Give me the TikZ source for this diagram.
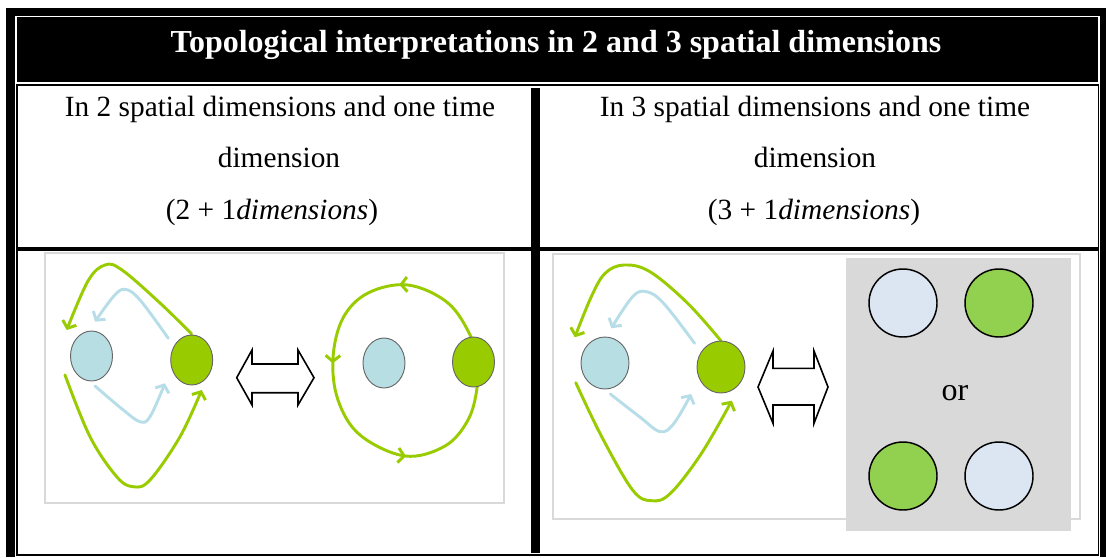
\documentclass[tikz,border=0pt]{standalone}
\usepackage{fontspec}
\setmainfont{Liberation Serif}
\usetikzlibrary{arrows.meta,shapes.geometric,decorations.markings}
\definecolor{tgreen}{HTML}{99CC00}
\definecolor{cgreen}{HTML}{92D050}
\definecolor{tblue}{HTML}{B7DEE8}
\definecolor{eblue}{HTML}{B7DEE3}
\definecolor{cblue}{HTML}{DCE6F2}
\definecolor{lgray}{HTML}{D9D9D9}
\begin{document}
\begin{tikzpicture}[x=0.75pt,y=-0.75pt,
  hdr/.style={font=\fontsize{22}{26}\selectfont, anchor=base, inner sep=0},
  sellL/.style={ellipse, draw=black!60, line width=0.7pt, inner sep=0, minimum width=31.5pt, minimum height=37.5pt},
  sellR/.style={ellipse, draw=black!60, line width=0.7pt, inner sep=0, minimum width=36pt, minimum height=39pt},
  ball/.style={circle, draw=black, line width=1.1pt, inner sep=0, minimum size=51pt},
  barb/.style={-{Straight Barb[length=4.5pt,width=11pt]}},
  garrow/.style={draw=tgreen, line width=2.2pt, line cap=round, line join=round, barb},
  barrow/.style={draw=tblue, line width=2.2pt, line cap=round, line join=round, barb},
  dblarrow/.style={draw=black, line width=1.2pt, fill=white, line join=miter},
  imgbox/.style={draw=lgray, line width=1.5pt}
]
\useasboundingbox (0,0) rectangle (1106,557);
% ---- table rules ----
\fill[black] (6,8) rectangle (15,557);
\fill[black] (6,8) rectangle (1106,15.5);
\fill[black] (1100,8) rectangle (1106,557);
\fill[black] (16.7,16.7) rectangle (1097.5,82);
\fill[black] (16.5,84) rectangle (1098,86);
\draw[black, line width=1.1pt] (16.9,84) -- (16.9,555.5);
\draw[black, line width=1.1pt] (1098.3,84) -- (1098.3,555.5);
\fill[black] (16.5,554) rectangle (1099,556);
\fill[black] (531,88) rectangle (540,553);
\fill[black] (16.5,247) rectangle (1098,251);
% ---- texts ----
\node[font=\bfseries\fontsize{24}{28}\selectfont, text=white, anchor=base, inner sep=0] (title) at (556,52) {Topological interpretations in 2 and 3 spatial dimensions};
\node[hdr] (hla) at (280,116) {In 2 spatial dimensions and one time};
\node[hdr] (hlb) at (279,167) {dimension};
\node[hdr] (hlc) at (272,219) {(2 + 1\textit{dimensions})};
\node[hdr] (hra) at (815,116) {In 3 spatial dimensions and one time};
\node[hdr] (hrb) at (815,167) {dimension};
\node[hdr] (hrc) at (814,219) {(3 + 1\textit{dimensions})};
% ---- left image ----
\draw[imgbox] (45,253) rectangle (504,503);
\draw[garrow] plot[smooth, tension=0.6] coordinates {(191.7,334) (160,303) (122,270) (105,265) (88,281) (66.7,330)};
\draw[garrow] plot[smooth, tension=0.6] coordinates {(65,375) (90,436.7) (116.7,476.7) (133.3,486.7) (150,480) (180,436.7) (201.7,390)};
\draw[barrow] plot[smooth, tension=0.6] coordinates {(168.3,338.3) (140,300) (125,289.3) (113.3,296.7) (95,321.7)};
\draw[barrow] plot[smooth, tension=0.6] coordinates {(95,386) (123.3,410) (140,421.7) (150,416.7) (165,383.3)};
\node[sellL, fill=eblue] (bL) at (91.5,356) {};
\node[sellL, fill=tgreen] (gL) at (191.7,360) {};
\draw[dblarrow] (236.7,377.7) -- (252,350) -- (252,364) -- (298,364) -- (298,350) -- (314,377.7) -- (298,405) -- (298,392.7) -- (252,392.7) -- (252,405) -- cycle;
\draw[draw=tgreen, line width=2.2pt, line join=round,
  postaction={decorate},
  decoration={markings,
    mark=at position 0.165 with {\arrow{Straight Barb[length=4.5pt,width=11pt]}},
    mark=at position 0.425 with {\arrow{Straight Barb[length=4.5pt,width=11pt]}},
    mark=at position 0.935 with {\arrow{Straight Barb[length=4.5pt,width=11pt]}}}]
  plot[smooth cycle, tension=0.6] coordinates {(408,285) (368,293) (343,318) (333,358) (338,400) (360,435) (405,456) (445,446) (468,420) (477,388) (476,362) (471,337) (448,303)};
\node[sellL, fill=eblue] (bL2) at (384,363) {};
\node[sellL, fill=tgreen] (gL2) at (473.5,362) {};
% ---- right image ----
\draw[imgbox] (553,254) rectangle (1080,519);
\draw[garrow] plot[smooth, tension=0.6] coordinates {(721.1,341) (687.7,303.3) (649.9,271.7) (624,265) (605.1,273.3) (591.3,296.7) (574.8,337.3)};
\draw[garrow] plot[smooth, tension=0.6] coordinates {(575.8,382.7) (601.7,436.7) (632.6,490) (651.6,500.7) (670.5,493.3) (701.5,453.3) (731.8,400.7)};
\draw[barrow] plot[smooth, tension=0.6] coordinates {(694.6,343.3) (663.6,303.3) (646.4,291.7) (632.6,296.7) (611.3,328.3)};
\draw[barrow] plot[smooth, tension=0.6] coordinates {(610.3,394) (639.5,416.7) (660.2,431.7) (674,423.3) (691.2,394)};
\node[sellR, fill=eblue] (bR) at (605,363) {};
\node[sellR, fill=tgreen] (gR) at (721,367) {};
\draw[dblarrow] (758,387) -- (773,351) -- (773,368.3) -- (814,368.3) -- (814,351) -- (828,387) -- (814,423.3) -- (814,405) -- (773,405) -- (773,423.3) -- cycle;
\fill[lgray] (846,258) rectangle (1071,531);
\node[ball, fill=cblue] (c1) at (903,303) {};
\node[ball, fill=cgreen] (c2) at (999,303) {};
\node[ball, fill=cgreen] (c3) at (903,476) {};
\node[ball, fill=cblue] (c4) at (999,476) {};
\node[font=\fontsize{24}{28}\selectfont, anchor=base, inner sep=0] (or) at (955,400) {or};
\end{tikzpicture}
\end{document}
